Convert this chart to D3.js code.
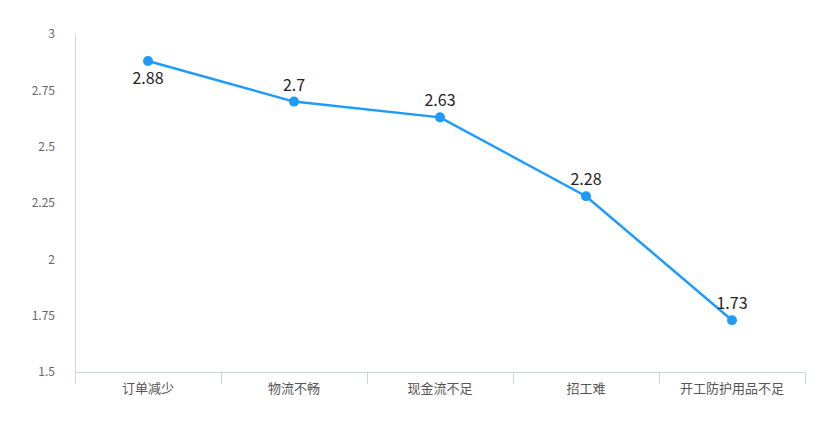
<!DOCTYPE html>
<html>
<head>
<meta charset="utf-8">
<script src="https://cdn.jsdelivr.net/npm/d3@7"></script>
<style>
  body { margin: 0; background: #fff; }
  text { font-family: "Microsoft YaHei", "Noto Sans CJK SC", sans-serif; }
</style>
</head>
<body>
<div id="chart"></div>
<script>
(function() {

  var categories = ['订单减少', '物流不畅', '现金流不足', '招工难', '开工防护用品不足'];
  var values = [2.88, 2.7, 2.63, 2.28, 1.73];
  var yTicks = [1.5, 1.75, 2, 2.25, 2.5, 2.75, 3];

  var width = 835, height = 426,
      margin = {top: 34, right: 30, bottom: 54, left: 75};

  var svg = d3.select('#chart')
    .append('svg')
    .attr('width', width)
    .attr('height', height);

  var x = d3.scaleBand()
    .domain(categories)
    .range([margin.left, width - margin.right]);

  var y = d3.scaleLinear()
    .domain([1.5, 3])
    .range([height - margin.bottom, margin.top]);

  var axisColor = '#c9d5e6';

  // y axis
  var yAxis = svg.append('g')
    .attr('transform', 'translate(' + margin.left + ',0)')
    .call(d3.axisLeft(y).tickValues(yTicks).tickSize(0).tickPadding(20)
      .tickFormat(function(d) { return d3.format('~g')(d); }));
  yAxis.select('.domain').attr('stroke', axisColor).attr('stroke-width', 1);
  yAxis.selectAll('text')
    .style('font-size', '12px')
    .style('fill', '#666');

  // x axis
  var xAxis = svg.append('g')
    .attr('transform', 'translate(0,' + y(1.5) + ')')
    .call(d3.axisBottom(x).tickSize(0).tickPadding(12));
  xAxis.select('.domain').attr('stroke', axisColor).attr('stroke-width', 1);
  xAxis.selectAll('text')
    .style('font-size', '13px')
    .style('fill', '#555');

  // category boundary ticks
  var bounds = categories.map(function(c) { return x(c); }).concat([x.range()[1]]);
  svg.append('g').selectAll('line')
    .data(bounds)
    .enter()
    .append('line')
    .attr('x1', function(d) { return d + 0.5; })
    .attr('x2', function(d) { return d + 0.5; })
    .attr('y1', y(1.5))
    .attr('y2', y(1.5) + 12)
    .attr('stroke', axisColor);

  var cx = function(d, i) { return x(categories[i]) + x.bandwidth() / 2; };

  var line = d3.line()
    .x(function(d, i) { return cx(d, i); })
    .y(function(d) { return y(d); });

  svg.append('path')
    .datum(values)
    .attr('d', line)
    .attr('fill', 'none')
    .attr('stroke', '#1e9bff')
    .attr('stroke-width', 2.5);

  svg.append('g').selectAll('circle')
    .data(values)
    .enter()
    .append('circle')
    .attr('cx', cx)
    .attr('cy', function(d) { return y(d); })
    .attr('r', 5)
    .attr('fill', '#1e9bff');

  // labels: above the point, below if too close to the top
  svg.append('g').selectAll('text')
    .data(values)
    .enter()
    .append('text')
    .attr('x', cx)
    .attr('y', function(d) {
      return y(d) - margin.top < 40 ? y(d) + 23 : y(d) - 11;
    })
    .attr('text-anchor', 'middle')
    .style('font-size', '16px')
    .style('fill', '#222')
    .text(function(d) { return d; });

})();
</script>
</body>
</html>
